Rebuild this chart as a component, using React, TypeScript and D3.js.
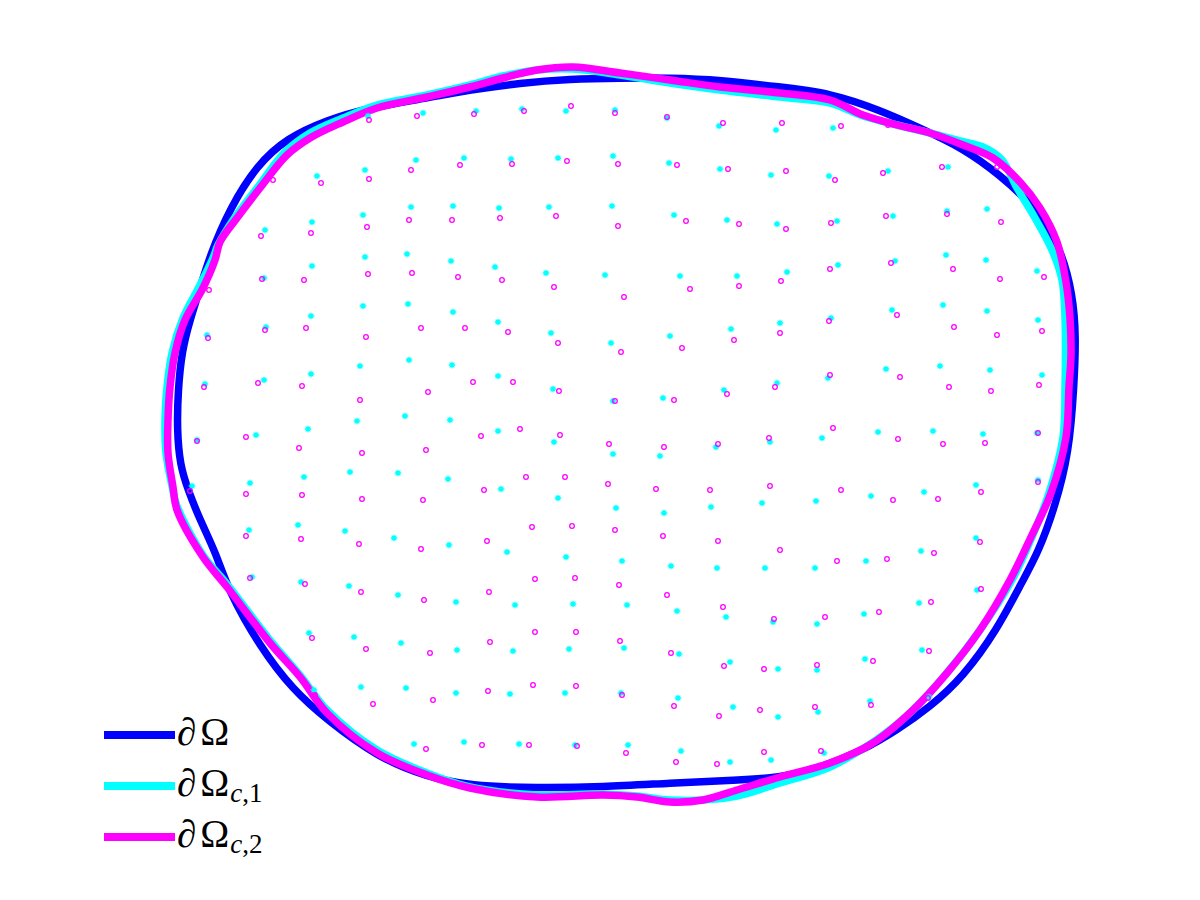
import React from 'react';
import * as d3 from 'd3';

type Pt = [number, number];

// boundary of the domain (blue)
const boundary: Pt[] = [
  [1.90, 5.80], [1.98, 6.05], [2.10, 6.45], [2.30, 6.92], [2.57, 7.35], [2.87, 7.62],
  [3.27, 7.80], [3.67, 7.92], [4.27, 8.02], [4.70, 8.10], [5.20, 8.17], [5.70, 8.21],
  [6.20, 8.22], [6.70, 8.22], [7.20, 8.20], [7.80, 8.13], [8.30, 8.07], [8.80, 7.90],
  [9.20, 7.72], [9.63, 7.52], [10.00, 7.25], [10.33, 6.95], [10.60, 6.55], [10.73, 6.05],
  [10.76, 5.63], [10.74, 5.13], [10.69, 4.47], [10.55, 3.93], [10.38, 3.47], [10.23, 3.20],
  [9.97, 2.70], [9.63, 2.23], [9.30, 1.93], [8.97, 1.70], [8.63, 1.50], [8.23, 1.33],
  [7.80, 1.22], [7.37, 1.20], [6.70, 1.17], [6.03, 1.13], [5.37, 1.12], [4.70, 1.14],
  [4.27, 1.23], [3.77, 1.43], [3.27, 1.80], [2.93, 2.10], [2.60, 2.53], [2.28, 3.10],
  [2.16, 3.47], [2.00, 3.80], [1.88, 4.10], [1.80, 4.35], [1.77, 4.70], [1.78, 5.10],
  [1.82, 5.50],
];

// reconstructed boundary, case 1 (cyan)
const boundaryC1: Pt[] = [
  [1.83, 5.82], [2.00, 6.15], [2.13, 6.42], [2.18, 6.55], [2.33, 6.80], [2.57, 7.12],
  [2.85, 7.48], [3.10, 7.67], [3.43, 7.82], [3.77, 7.95], [4.27, 8.05], [4.70, 8.15],
  [5.03, 8.24], [5.37, 8.30], [5.73, 8.31], [6.20, 8.25], [6.70, 8.17], [7.20, 8.10],
  [7.80, 8.03], [8.30, 7.97], [8.63, 7.84], [8.97, 7.75], [9.30, 7.67], [9.60, 7.59],
  [9.83, 7.53], [10.02, 7.40], [10.17, 7.12], [10.35, 6.82], [10.52, 6.50], [10.62, 6.20],
  [10.65, 5.82], [10.65, 5.13], [10.63, 4.63], [10.49, 4.07], [10.32, 3.63], [10.12, 3.20],
  [9.80, 2.70], [9.46, 2.26], [9.11, 1.88], [8.76, 1.60], [8.30, 1.33], [7.80, 1.17],
  [7.37, 1.04], [7.03, 1.00], [6.70, 1.00], [6.37, 1.04], [6.03, 1.06], [5.37, 1.05],
  [4.70, 1.13], [4.27, 1.27], [3.77, 1.50], [3.27, 1.90], [3.00, 2.25], [2.70, 2.60],
  [2.27, 3.16], [2.03, 3.45], [1.77, 3.94], [1.72, 4.14], [1.66, 4.47], [1.65, 4.80],
  [1.67, 5.13], [1.72, 5.47],
];

// reconstructed boundary, case 2 (magenta)
const boundaryC2: Pt[] = [
  [1.85, 5.80], [2.03, 6.12], [2.15, 6.40], [2.20, 6.58], [2.37, 6.82], [2.60, 7.12],
  [2.87, 7.45], [3.10, 7.62], [3.43, 7.78], [3.77, 7.92], [4.27, 8.03], [4.70, 8.13],
  [5.03, 8.22], [5.37, 8.30], [5.73, 8.33], [6.20, 8.27], [6.70, 8.20], [7.20, 8.13],
  [7.80, 8.07], [8.30, 8.00], [8.63, 7.85], [8.97, 7.75], [9.30, 7.67], [9.63, 7.55],
  [9.93, 7.42], [10.20, 7.18], [10.40, 6.92], [10.57, 6.58], [10.66, 6.18], [10.70, 5.82],
  [10.71, 5.45], [10.69, 5.13], [10.66, 4.63], [10.51, 4.07], [10.31, 3.63], [10.10, 3.20],
  [9.80, 2.70], [9.47, 2.27], [9.13, 1.90], [8.73, 1.57], [8.30, 1.37], [7.80, 1.23],
  [7.37, 1.10], [7.03, 1.00], [6.70, 0.98], [6.37, 1.03], [6.03, 1.05], [5.37, 1.03],
  [4.70, 1.12], [4.27, 1.25], [3.77, 1.47], [3.27, 1.87], [3.00, 2.23], [2.70, 2.57],
  [2.27, 3.13], [2.03, 3.43], [1.77, 3.90], [1.73, 4.13], [1.68, 4.47], [1.68, 4.80],
  [1.70, 5.13], [1.75, 5.47],
];

// interior nodes, case 1 (cyan asterisks)
const nodesC1: Pt[] = [
  [3.68, 7.84], [4.23, 7.87], [4.76, 7.89], [5.22, 7.91], [5.66, 7.89], [6.15, 7.90], [6.67, 7.82], [7.19, 7.74], [7.76, 7.70], [8.33, 7.72],
  [3.17, 7.24], [3.65, 7.30], [4.16, 7.40], [4.64, 7.42], [5.11, 7.41], [5.58, 7.42], [6.13, 7.44], [6.69, 7.37], [7.20, 7.31], [7.71, 7.25], [8.29, 7.24], [8.88, 7.29], [9.48, 7.33],
  [2.65, 6.70], [3.12, 6.78], [3.63, 6.85], [4.11, 6.93], [4.53, 6.94], [4.99, 6.92], [5.49, 6.93], [6.12, 6.94], [6.74, 6.85], [7.27, 6.80], [7.77, 6.76], [8.37, 6.79], [8.93, 6.84], [9.47, 6.89], [9.87, 6.91],
  [2.64, 6.22], [3.12, 6.34], [3.65, 6.43], [4.07, 6.46], [4.51, 6.39], [4.95, 6.33], [5.46, 6.27], [6.05, 6.25], [6.80, 6.24], [7.37, 6.24], [7.87, 6.28], [8.38, 6.35], [8.95, 6.39], [9.46, 6.45], [9.86, 6.40], [10.37, 6.29],
  [2.07, 5.65], [2.66, 5.73], [3.11, 5.84], [3.63, 5.94], [4.08, 5.96], [4.53, 5.88], [4.98, 5.78], [5.51, 5.67], [6.11, 5.57], [6.70, 5.64], [7.31, 5.71], [7.80, 5.77], [8.31, 5.82], [8.92, 5.90], [9.43, 5.95], [9.87, 5.89], [10.38, 5.80],
  [2.05, 5.16], [2.64, 5.20], [3.11, 5.26], [3.60, 5.34], [4.09, 5.40], [4.52, 5.35], [4.98, 5.24], [5.53, 5.11], [6.13, 4.99], [6.63, 5.02], [7.24, 5.10], [7.77, 5.17], [8.28, 5.22], [8.86, 5.31], [9.40, 5.34], [9.90, 5.30], [10.42, 5.25],
  [1.97, 4.60], [2.56, 4.65], [3.08, 4.71], [3.57, 4.79], [4.05, 4.84], [4.50, 4.80], [4.98, 4.69], [5.54, 4.58], [6.13, 4.46], [6.60, 4.44], [7.16, 4.53], [7.70, 4.58], [8.22, 4.62], [8.78, 4.68], [9.33, 4.69], [9.83, 4.66], [10.37, 4.67],
  [1.92, 4.14], [2.50, 4.17], [3.04, 4.23], [3.50, 4.28], [3.98, 4.27], [4.48, 4.21], [5.01, 4.11], [5.58, 4.02], [6.16, 3.92], [6.64, 3.87], [7.11, 3.93], [7.62, 3.97], [8.16, 3.99], [8.71, 4.04], [9.24, 4.08], [9.76, 4.15], [10.38, 4.20],
  [2.49, 3.70], [2.98, 3.75], [3.45, 3.69], [3.94, 3.62], [4.49, 3.55], [5.07, 3.48], [5.66, 3.43], [6.22, 3.39], [6.71, 3.34], [7.17, 3.32], [7.65, 3.32], [8.15, 3.32], [8.66, 3.39], [9.21, 3.49], [9.76, 3.62],
  [2.52, 3.23], [3.01, 3.18], [3.49, 3.14], [3.98, 3.05], [4.56, 2.98], [5.15, 2.95], [5.73, 2.96], [6.27, 2.95], [6.77, 2.89], [7.26, 2.83], [7.73, 2.78], [8.17, 2.76], [8.64, 2.86], [9.19, 2.97], [9.77, 3.10],
  [3.09, 2.67], [3.54, 2.63], [4.01, 2.57], [4.57, 2.50], [5.13, 2.49], [5.69, 2.51], [6.24, 2.52], [6.79, 2.46], [7.30, 2.38], [7.78, 2.31], [8.17, 2.30], [8.65, 2.41], [9.22, 2.50],
  [3.14, 2.10], [3.61, 2.13], [4.06, 2.12], [4.56, 2.07], [5.10, 2.06], [5.65, 2.07], [6.21, 2.07], [6.78, 2.02], [7.33, 1.93], [7.78, 1.83], [8.18, 1.88], [8.70, 1.99], [9.29, 2.03],
  [4.14, 1.56], [4.64, 1.58], [5.19, 1.56], [5.75, 1.55], [6.28, 1.55], [6.81, 1.49], [7.30, 1.38], [7.71, 1.40], [8.24, 1.47],
];

// interior nodes, case 2 (magenta circles)
const nodesC2: Pt[] = [
  [3.69, 7.80], [4.17, 7.84], [4.74, 7.86], [5.24, 7.89], [5.71, 7.94], [6.15, 7.87], [6.67, 7.83], [7.23, 7.77], [7.82, 7.77], [8.41, 7.74], [8.88, 7.75],
  [2.73, 7.20], [3.21, 7.17], [3.69, 7.21], [4.11, 7.30], [4.60, 7.35], [5.12, 7.36], [5.67, 7.39], [6.18, 7.36], [6.77, 7.35], [7.28, 7.31], [7.86, 7.29], [8.35, 7.20], [8.83, 7.27], [9.42, 7.33], [9.97, 7.33],
  [2.61, 6.64], [3.11, 6.67], [3.67, 6.73], [4.09, 6.80], [4.52, 6.80], [5.00, 6.82], [5.56, 6.84], [6.18, 6.74], [6.86, 6.79], [7.39, 6.76], [7.86, 6.71], [8.31, 6.77], [8.86, 6.84], [9.47, 6.86], [10.01, 6.78],
  [2.09, 6.10], [2.62, 6.21], [3.04, 6.20], [3.68, 6.26], [4.12, 6.27], [4.58, 6.23], [5.02, 6.20], [5.54, 6.13], [6.24, 6.03], [6.90, 6.11], [7.39, 6.14], [7.81, 6.19], [8.30, 6.31], [8.91, 6.37], [9.53, 6.31], [10.00, 6.21], [10.44, 6.23],
  [2.08, 5.62], [2.65, 5.70], [3.06, 5.72], [3.66, 5.63], [4.21, 5.72], [4.65, 5.72], [5.08, 5.68], [5.58, 5.57], [6.21, 5.48], [6.82, 5.52], [7.34, 5.60], [7.80, 5.67], [8.29, 5.79], [8.97, 5.85], [9.54, 5.73], [9.97, 5.65], [10.42, 5.69],
  [2.04, 5.13], [2.58, 5.17], [3.02, 5.14], [3.60, 5.00], [4.28, 5.08], [4.73, 5.18], [5.13, 5.18], [5.59, 5.09], [6.15, 4.99], [6.74, 5.00], [7.27, 5.06], [7.75, 5.13], [8.30, 5.25], [9.00, 5.23], [9.49, 5.13], [9.91, 5.09], [10.39, 5.15],
  [1.97, 4.59], [2.46, 4.63], [2.99, 4.52], [3.62, 4.47], [4.26, 4.50], [4.81, 4.64], [5.20, 4.71], [5.60, 4.65], [6.09, 4.56], [6.64, 4.53], [7.18, 4.56], [7.69, 4.62], [8.33, 4.72], [8.98, 4.61], [9.43, 4.56], [9.85, 4.57], [10.38, 4.67],
  [1.90, 4.09], [2.46, 4.06], [3.02, 4.05], [3.62, 4.01], [4.23, 4.00], [4.84, 4.10], [5.26, 4.23], [5.65, 4.23], [6.08, 4.16], [6.56, 4.11], [7.10, 4.10], [7.70, 4.14], [8.41, 4.10], [8.93, 4.00], [9.38, 4.01], [9.81, 4.08], [10.38, 4.18],
  [2.46, 3.64], [3.01, 3.61], [3.59, 3.56], [4.21, 3.51], [4.87, 3.59], [5.32, 3.73], [5.72, 3.74], [6.15, 3.70], [6.63, 3.64], [7.18, 3.59], [7.80, 3.50], [8.37, 3.39], [8.87, 3.41], [9.34, 3.47], [9.80, 3.58],
  [2.50, 3.22], [3.05, 3.16], [3.61, 3.08], [4.24, 3.00], [4.89, 3.08], [5.35, 3.21], [5.75, 3.22], [6.19, 3.15], [6.67, 3.05], [7.23, 2.93], [7.74, 2.81], [8.25, 2.83], [8.79, 2.88], [9.31, 2.98], [9.81, 3.11],
  [3.12, 2.62], [3.66, 2.51], [4.30, 2.47], [4.90, 2.58], [5.35, 2.68], [5.76, 2.68], [6.20, 2.59], [6.71, 2.47], [7.24, 2.34], [7.64, 2.31], [8.17, 2.35], [8.73, 2.39], [9.29, 2.49],
  [3.15, 2.05], [3.73, 1.96], [4.33, 2.00], [4.88, 2.09], [5.33, 2.15], [5.76, 2.14], [6.22, 2.05], [6.74, 1.94], [7.19, 1.84], [7.60, 1.90], [8.15, 1.93], [8.71, 1.95], [9.28, 2.02],
  [4.26, 1.51], [4.82, 1.55], [5.29, 1.55], [5.77, 1.54], [6.26, 1.47], [6.76, 1.38], [7.17, 1.36], [7.64, 1.48], [8.21, 1.49],
];

const seriesColors = ['#0000ff', '#00ffff', '#ff00ff'];
const legendSubs = ['', '1', '2'];

const W = 1200;
const H = 900;

const x = d3.scaleLinear().domain([0, 12]).range([0, W]);
const y = d3.scaleLinear().domain([0, 9]).range([H, 0]);

// the true boundary is smooth, the reconstructed ones are a bit wobbly
const smoothLine = d3.line<Pt>()
  .x(d => x(d[0]))
  .y(d => y(d[1]))
  .curve(d3.curveBasisClosed);

const line = d3.line<Pt>()
  .x(d => x(d[0]))
  .y(d => y(d[1]))
  .curve(d3.curveCatmullRomClosed.alpha(0.5));

const asterisk = 'M-3.3,0H3.3M0,-3.3V3.3M-2.4,-2.4L2.4,2.4M-2.4,2.4L2.4,-2.4';

export default function App() {
  const paths = [smoothLine(boundary), line(boundaryC1), line(boundaryC2)];
  const font = '"Liberation Serif", "DejaVu Serif", serif';

  return (
    <svg width={W} height={H} style={{ position: 'absolute', left: 0, top: 0, background: '#fff' }}>
      <rect width={W} height={H} fill="#fff" />

      {paths.map((p, i) => (
        <path key={i} d={p || ''} fill="none" stroke={seriesColors[i]}
          strokeWidth={7.5} strokeLinejoin="round" />
      ))}

      <g stroke="#00ffff" strokeWidth={1.3} fill="none">
        {nodesC1.map((d, i) => (
          <path key={i} d={asterisk} transform={`translate(${x(d[0])},${y(d[1])})`} />
        ))}
      </g>

      <g stroke="#ff00ff" strokeWidth={1.3} fill="none">
        {nodesC2.map((d, i) => (
          <circle key={i} cx={x(d[0])} cy={y(d[1])} r={2.3} />
        ))}
      </g>

      {/* legend */}
      <g>
        {seriesColors.map((col, i) => {
          const ly = 735 + i * 51;
          return (
            <g key={i}>
              <line x1={104} x2={175} y1={ly} y2={ly} stroke={col} strokeWidth={8} />
              <text x={177} y={ly + 10} fontFamily={font} fontSize={39} fill="#000">
                <tspan fontStyle="italic">∂</tspan>
                <tspan dx={4}>Ω</tspan>
                {legendSubs[i] && (
                  <tspan fontSize={27} dx={1} dy={6}>
                    <tspan fontStyle="italic">c</tspan>,{legendSubs[i]}
                  </tspan>
                )}
              </text>
            </g>
          );
        })}
      </g>
    </svg>
  );
}
